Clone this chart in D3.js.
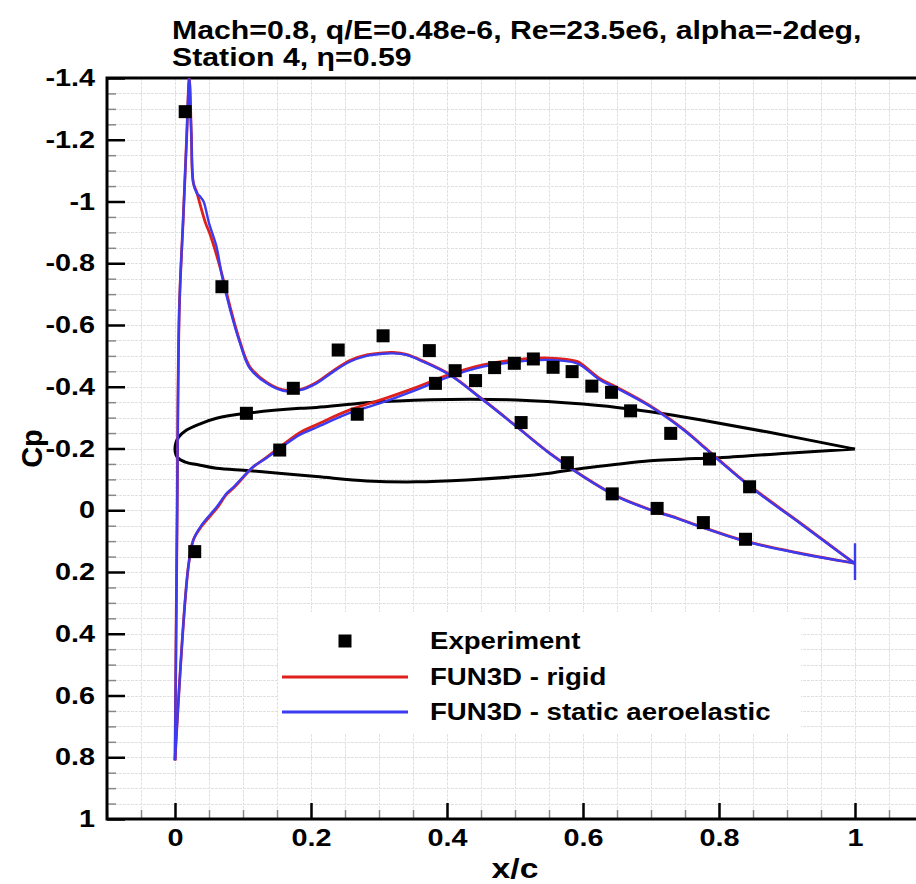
<!DOCTYPE html>
<html><head><meta charset="utf-8">
<script src="https://cdn.jsdelivr.net/npm/d3@7"></script>
<style>
body{margin:0;background:#fff;}
svg{display:block;}
text{font-family:"Liberation Sans",Arial,Helvetica,sans-serif;font-weight:bold;fill:#000;}
</style>
</head><body>
<svg id="chart" width="916" height="884"></svg>
<script>
// ---------------- data ----------------
const titleLine1 = "Mach=0.8, q/E=0.48e-6, Re=23.5e6, alpha=-2deg,";
const titleLine2 = "Station 4, \u03B7=0.59";
const xLabel = "x/c";
const yLabel = "Cp";

const xTickValues = [0, 0.2, 0.4, 0.6, 0.8, 1];
const xTickLabels = ["0", "0.2", "0.4", "0.6", "0.8", "1"];
const yTickValues = [-1.4, -1.2, -1, -0.8, -0.6, -0.4, -0.2, 0, 0.2, 0.4, 0.6, 0.8, 1];
const yTickLabels = ["-1.4", "-1.2", "-1", "-0.8", "-0.6", "-0.4", "-0.2", "0", "0.2", "0.4", "0.6", "0.8", "1"];

const legendLabels = ["Experiment", "FUN3D - rigid", "FUN3D - static aeroelastic"];

// Experiment
const expX  = [0.015, 0.029, 0.069, 0.105, 0.154, 0.174, 0.240, 0.268, 0.306, 0.374, 0.383, 0.412, 0.442, 0.470, 0.499, 0.509, 0.527, 0.556, 0.577, 0.584, 0.613, 0.642, 0.643, 0.670, 0.709, 0.729, 0.777, 0.786, 0.839, 0.845];
const expCp = [-1.291, 0.134, -0.724, -0.314, -0.195, -0.395, -0.519, -0.311, -0.565, -0.517, -0.411, -0.452, -0.420, -0.462, -0.476, -0.284, -0.490, -0.463, -0.154, -0.449, -0.402, -0.382, -0.053, -0.322, -0.006, -0.249, 0.040, -0.166, 0.094, -0.076];

// FUN3D static aeroelastic (blue), surface with the suction peak
const aeroAX  = [0, 0.003, 0.0063, 0.0122, 0.017, 0.021, 0.024, 0.027, 0.032, 0.037, 0.042, 0.050, 0.061, 0.069, 0.081, 0.095, 0.110, 0.135, 0.159, 0.184, 0.208, 0.233, 0.257, 0.282, 0.306, 0.321, 0.340, 0.365, 0.404, 0.453, 0.502, 0.551, 0.600, 0.650, 0.699, 0.738, 0.772, 0.841, 0.919, 0.995, 1.0];
const aeroACp = [0.81, 0.05, -0.649, -0.95, -1.20, -1.40, -1.22, -1.06, -1.027, -1.016, -1.00, -0.93, -0.854, -0.76, -0.65, -0.545, -0.46, -0.411, -0.387, -0.389, -0.411, -0.449, -0.481, -0.500, -0.507, -0.508, -0.503, -0.481, -0.438, -0.357, -0.271, -0.184, -0.109, -0.044, -0.001, 0.026, 0.053, 0.102, 0.140, 0.170, 0.172];
// FUN3D static aeroelastic (blue), other surface
const aeroBX  = [0, 0.0196, 0.027, 0.039, 0.061, 0.076, 0.086, 0.115, 0.135, 0.154, 0.184, 0.208, 0.257, 0.306, 0.355, 0.404, 0.453, 0.502, 0.551, 0.591, 0.600, 0.625, 0.650, 0.699, 0.748, 0.772, 0.846, 0.919, 0.995, 1.0];
const aeroBCp = [0.81, 0.183, 0.096, 0.048, -0.010, -0.055, -0.075, -0.141, -0.170, -0.200, -0.245, -0.268, -0.315, -0.350, -0.390, -0.433, -0.465, -0.481, -0.487, -0.476, -0.465, -0.422, -0.395, -0.336, -0.260, -0.215, -0.076, 0.042, 0.165, 0.172];
// blue trailing-edge closure at x/c = 1
const aeroTEX  = [1.0, 1.0];
const aeroTECp = [0.107, 0.226];

// FUN3D rigid (red)
const rigidAX  = [0, 0.003, 0.0063, 0.0122, 0.017, 0.021, 0.024, 0.027, 0.032, 0.037, 0.045, 0.051, 0.066, 0.081, 0.095, 0.110, 0.135, 0.159, 0.184, 0.208, 0.233, 0.257, 0.282, 0.306, 0.321, 0.340, 0.365, 0.404, 0.453, 0.502, 0.551, 0.600, 0.650, 0.699, 0.738, 0.772, 0.841, 0.919, 0.995, 1.0];
const rigidACp = [0.81, 0.05, -0.649, -0.95, -1.20, -1.40, -1.22, -1.06, -1.03, -0.99, -0.93, -0.897, -0.789, -0.659, -0.55, -0.465, -0.414, -0.39, -0.391, -0.414, -0.452, -0.485, -0.503, -0.510, -0.511, -0.505, -0.483, -0.440, -0.358, -0.272, -0.185, -0.110, -0.045, -0.002, 0.025, 0.052, 0.101, 0.139, 0.170, 0.172];
const rigidBX  = [0, 0.0196, 0.027, 0.039, 0.061, 0.076, 0.086, 0.115, 0.135, 0.154, 0.184, 0.208, 0.257, 0.306, 0.355, 0.404, 0.453, 0.502, 0.551, 0.591, 0.600, 0.625, 0.650, 0.699, 0.748, 0.772, 0.846, 0.919, 0.995, 1.0];
const rigidBCp = [0.81, 0.183, 0.096, 0.052, -0.005, -0.052, -0.072, -0.140, -0.172, -0.204, -0.252, -0.277, -0.325, -0.360, -0.398, -0.440, -0.471, -0.488, -0.493, -0.482, -0.470, -0.426, -0.398, -0.338, -0.262, -0.217, -0.078, 0.040, 0.165, 0.172];

// Airfoil outline (drawn in the Cp frame): trailing edge -> upper -> nose -> lower -> trailing edge
const foilX = [1.0, 0.870, 0.772, 0.699, 0.650, 0.600, 0.502, 0.404, 0.306, 0.208, 0.184, 0.105, 0.061, 0.037, 0.015, 0.005, 0.0, 0.004, 0.014, 0.037, 0.061, 0.110, 0.208, 0.282, 0.355, 0.429, 0.502, 0.551, 0.600, 0.650, 0.699, 0.772, 0.801, 0.900, 1.0];
const foilY = [-0.198, -0.254, -0.293, -0.319, -0.333, -0.344, -0.357, -0.359, -0.352, -0.333, -0.330, -0.314, -0.298, -0.280, -0.257, -0.236, -0.197, -0.170, -0.157, -0.146, -0.136, -0.128, -0.109, -0.095, -0.092, -0.098, -0.109, -0.120, -0.136, -0.149, -0.160, -0.168, -0.170, -0.185, -0.198];

// ---------------- layout ----------------
const svg = d3.select("#chart");
const W = 916, H = 884;
const L = 107, R = 923, T = 78, B = 819;
const STRETCH = 1.2; // glyphs in the reference are wider than Liberation Sans
const x = d3.scaleLinear().domain([-0.1, 1.1]).range([L, R]);
const y = d3.scaleLinear().domain([-1.4, 1]).range([T, B]);

function stretch(sel, k) {
  sel.each(function () {
    const n = this.getComputedTextLength();
    if (n > 0) d3.select(this).attr("textLength", n * k).attr("lengthAdjust", "spacingAndGlyphs");
  });
}

svg.append("rect").attr("width", W).attr("height", H).attr("fill", "#fff");

svg.append("defs").append("clipPath").attr("id", "plotclip")
  .append("rect").attr("x", L).attr("y", T).attr("width", R - L).attr("height", B - T);

// grid
const gx = d3.range(-0.1, 1.1001, 0.05);
const gy = d3.range(-1.4, 1.0001, 0.05);
const grid = svg.append("g").attr("stroke", "#e0e0e0").attr("stroke-width", 1).attr("stroke-dasharray", "3,1");
grid.selectAll("line.gx").data(gx).join("line").attr("class", "gx")
  .attr("x1", d => Math.round(x(d)) + 0.5).attr("x2", d => Math.round(x(d)) + 0.5).attr("y1", T).attr("y2", B);
grid.selectAll("line.gy").data(gy).join("line").attr("class", "gy")
  .attr("y1", d => Math.round(y(d)) + 0.5).attr("y2", d => Math.round(y(d)) + 0.5).attr("x1", L).attr("x2", R);

// legend background hides the grid
const legX = 279, legY = 612, legW = 522, legH = 121;
svg.append("rect").attr("x", legX).attr("y", legY).attr("width", legW).attr("height", legH).attr("fill", "#fff");

// minor ticks
const minorY = gy.filter(v => !yTickValues.some(t => Math.abs(t - v) < 1e-6));
const minorX = gx.filter(v => !xTickValues.some(t => Math.abs(t - v) < 1e-6));
svg.append("g").attr("transform", `translate(${L},0)`)
  .call(d3.axisLeft(y).tickValues(minorY).tickSize(-9).tickFormat(""))
  .call(g => g.select(".domain").remove())
  .call(g => g.selectAll("line").attr("stroke", "#888").attr("stroke-width", 1.5));
svg.append("g").attr("transform", `translate(0,${B})`)
  .call(d3.axisBottom(x).tickValues(minorX).tickSize(-9).tickFormat(""))
  .call(g => g.select(".domain").remove())
  .call(g => g.selectAll("line").attr("stroke", "#888").attr("stroke-width", 1.5));

// major axes
const yAxis = svg.append("g").attr("transform", `translate(${L},0)`)
  .call(d3.axisLeft(y).tickValues(yTickValues).tickSize(-18).tickPadding(12)
    .tickFormat((d, i) => yTickLabels[i]));
yAxis.select(".domain").remove();
yAxis.selectAll("line").attr("stroke", "#000").attr("stroke-width", 2.5);
yAxis.selectAll("text").attr("font-size", 24).attr("font-family", null).attr("font-weight", "bold").call(stretch, STRETCH);

const xAxis = svg.append("g").attr("transform", `translate(0,${B})`)
  .call(d3.axisBottom(x).tickValues(xTickValues).tickSize(-16).tickPadding(10)
    .tickFormat((d, i) => xTickLabels[i]));
xAxis.select(".domain").remove();
xAxis.selectAll("line").attr("stroke", "#000").attr("stroke-width", 2.5);
xAxis.selectAll("text").attr("font-size", 24).attr("font-family", null).attr("font-weight", "bold").call(stretch, STRETCH);

// frame
svg.append("rect").attr("x", L).attr("y", T).attr("width", R - L).attr("height", B - T)
  .attr("fill", "none").attr("stroke", "#000").attr("stroke-width", 3);

// plot content
const plot = svg.append("g").attr("clip-path", "url(#plotclip)");
const line = d3.line().x(d => x(d[0])).y(d => y(d[1])).curve(d3.curveCatmullRom.alpha(0.5));
const straight = d3.line().x(d => x(d[0])).y(d => y(d[1]));
const zip = (a, b) => a.map((v, i) => [v, b[i]]);

plot.append("path").datum(zip(foilX, foilY)).attr("d", line)
  .attr("fill", "none").attr("stroke", "#000").attr("stroke-width", 3);

const red = "#e0201c", blue = "#3b3bf2";
[[rigidAX, rigidACp], [rigidBX, rigidBCp]].forEach(([a, b]) => {
  plot.append("path").datum(zip(a, b)).attr("d", line)
    .attr("fill", "none").attr("stroke", red).attr("stroke-width", 2.8).attr("stroke-linejoin", "round");
});
[[aeroAX, aeroACp], [aeroBX, aeroBCp]].forEach(([a, b]) => {
  plot.append("path").datum(zip(a, b)).attr("d", line)
    .attr("fill", "none").attr("stroke", blue).attr("stroke-width", 2.4).attr("stroke-linejoin", "round");
});
plot.append("path").datum(zip(aeroTEX, aeroTECp)).attr("d", straight)
  .attr("fill", "none").attr("stroke", blue).attr("stroke-width", 2.4);

const sq = 13;
plot.selectAll("rect.exp").data(zip(expX, expCp)).join("rect").attr("class", "exp")
  .attr("x", d => x(d[0]) - sq / 2).attr("y", d => y(d[1]) - sq / 2)
  .attr("width", sq).attr("height", sq).attr("fill", "#000");

// legend
const legRows = [641, 677, 712];
const lg = svg.append("g");
lg.append("rect").attr("x", 345 - 6.5).attr("y", legRows[0] - 6.5).attr("width", 13).attr("height", 13).attr("fill", "#000");
lg.append("line").attr("x1", 282).attr("x2", 408).attr("y1", legRows[1]).attr("y2", legRows[1]).attr("stroke", red).attr("stroke-width", 3);
lg.append("line").attr("x1", 282).attr("x2", 408).attr("y1", legRows[2]).attr("y2", legRows[2]).attr("stroke", blue).attr("stroke-width", 3);
legendLabels.forEach((t, i) => {
  lg.append("text").attr("x", 430).attr("y", legRows[i]).attr("dy", "0.36em")
    .attr("font-size", 23).text(t).call(stretch, 1.2);
});

// titles
svg.append("text").attr("x", 172).attr("y", 39).attr("font-size", 25).text(titleLine1).call(stretch, 1.21);
svg.append("text").attr("x", 172).attr("y", 66).attr("font-size", 25).text(titleLine2).call(stretch, 1.21);

svg.append("text").attr("x", x(0.5)).attr("y", 878).attr("text-anchor", "middle").attr("font-size", 28).text(xLabel).call(stretch, 1.2);
svg.append("text").attr("transform", `translate(42,${y(-0.2)}) rotate(-90)`).attr("text-anchor", "middle")
  .attr("font-size", 29).text(yLabel);
</script>
</body></html>
